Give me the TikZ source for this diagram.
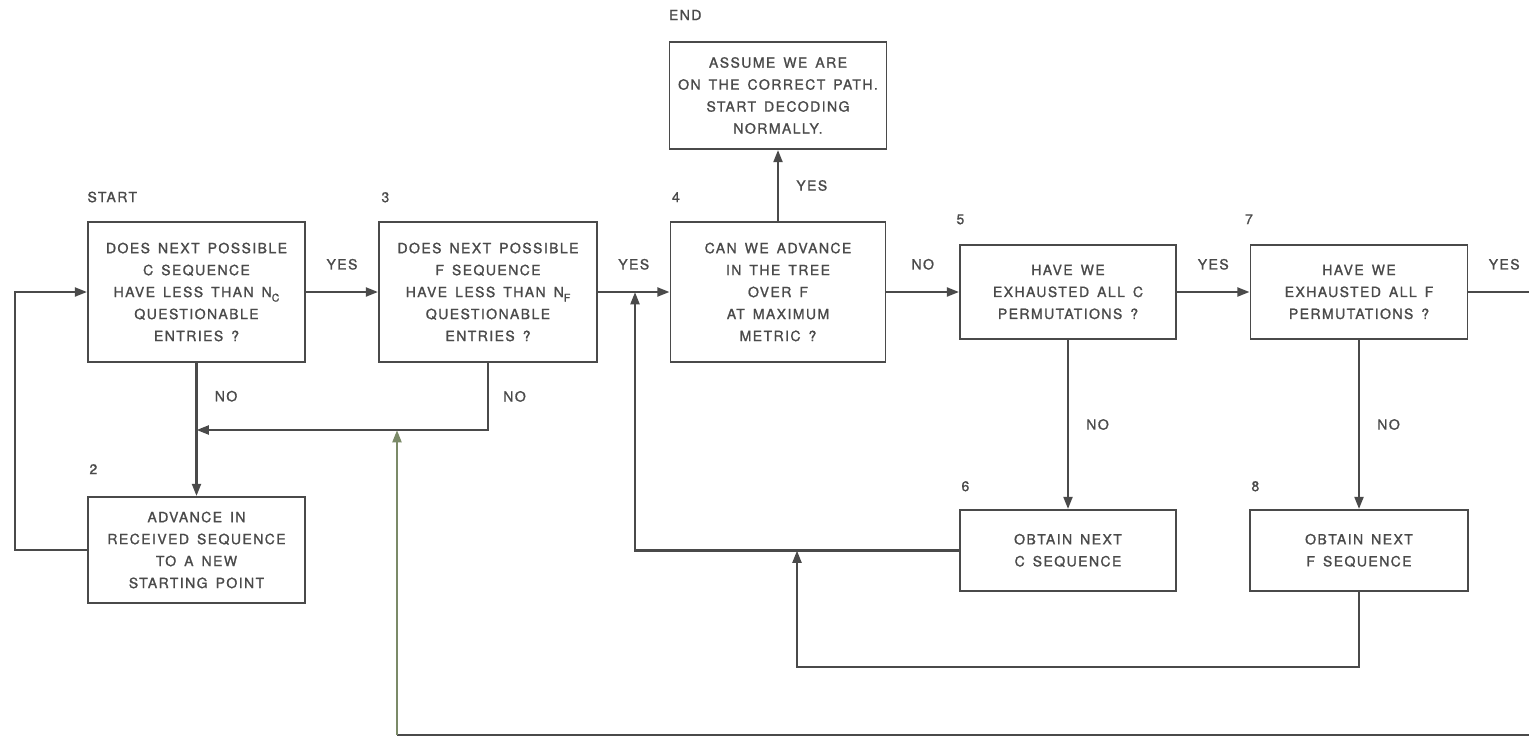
\documentclass[tikz,border=0pt]{standalone}
\usepackage{fontspec}
\newfontfamily\lettering[LetterSpace=10, WordSpace=1.5, FakeBold=1.2]{TeX Gyre Heros}
\usetikzlibrary{arrows.meta, positioning}
\definecolor{inkLine}{HTML}{4A4A4A}
\definecolor{inkText}{HTML}{4A4A4A}
\definecolor{inkGreen}{HTML}{7B8A68}
\newcommand{\subidx}[1]{\raisebox{-0.6ex}{\fontsize{6}{6}\selectfont #1}}

\begin{document}
\begin{tikzpicture}[
    x=0.02cm, y=-0.02cm,
    box/.style={
      rectangle, draw=inkLine, line width=1pt, fill=white,
      text=inkText, align=center, inner sep=2pt,
      font=\lettering\fontsize{8}{12.5}\selectfont
    },
    tag/.style={anchor=base west, inner sep=0pt, text=inkText,
      font=\lettering\fontsize{8}{10}\selectfont},
    lbl/.style={inner sep=0pt, text=inkText,
      font=\lettering\fontsize{8}{10}\selectfont},
    link/.style={line width=1.5pt, inkLine},
    flow/.style={-{Triangle[length=7pt,width=5pt]}, line width=1.5pt, inkLine},
  ]
  \useasboundingbox (0,0) rectangle (1529,737);

  %% -- Top row --
  \node[box, minimum width=4.34cm, minimum height=2.8cm] (start) at (196.5,292)
    {DOES NEXT POSSIBLE\\C SEQUENCE\\HAVE LESS THAN N\subidx{C}\\QUESTIONABLE\\ENTRIES ?};
  \node[box, minimum width=4.36cm, minimum height=2.8cm] (fchk) at (488,292)
    {DOES NEXT POSSIBLE\\F SEQUENCE\\HAVE LESS THAN N\subidx{F}\\QUESTIONABLE\\ENTRIES ?};
  \node[box, minimum width=4.3cm, minimum height=2.8cm] (adv) at (778,292)
    {CAN WE ADVANCE\\IN THE TREE\\OVER F\\AT MAXIMUM\\METRIC ?};
  \node[box, minimum width=4.32cm, minimum height=1.88cm] (exc) at (1068,292)
    {HAVE WE\\EXHAUSTED ALL C\\PERMUTATIONS ?};
  \node[box, minimum width=4.34cm, minimum height=1.88cm] (exf) at (1359,292)
    {HAVE WE\\EXHAUSTED ALL F\\PERMUTATIONS ?};

  %% -- End box --
  \node[box, minimum width=4.34cm, minimum height=2.14cm] (fin) at (778,95.5)
    {ASSUME WE ARE\\ON THE CORRECT PATH.\\START DECODING\\NORMALLY.};

  %% -- Bottom row --
  \node[box, minimum width=4.34cm, minimum height=2.12cm] (newpt) at (196.5,550)
    {ADVANCE IN\\RECEIVED SEQUENCE\\TO A NEW\\STARTING POINT};
  \node[box, minimum width=4.32cm, minimum height=1.62cm] (nxc) at (1068,550.5)
    {OBTAIN NEXT\\C SEQUENCE};
  \node[box, minimum width=4.36cm, minimum height=1.62cm] (nxf) at (1359,550.5)
    {OBTAIN NEXT\\F SEQUENCE};

  %% -- Step tags --
  \node[tag] (tstart) at ([yshift=0.38cm]start.north west) {START};
  \node[tag] (tfchk)  at ([xshift=0.06cm, yshift=0.38cm]fchk.north west) {3};
  \node[tag] (tadv)   at ([xshift=0.04cm, yshift=0.38cm]adv.north west) {4};
  \node[tag] (tfin)   at ([yshift=0.42cm]fin.north west) {END};
  \node[tag] (texc)   at ([xshift=-0.06cm, yshift=0.4cm]exc.north west) {5};
  \node[tag] (texf)   at ([xshift=-0.1cm, yshift=0.4cm]exf.north west) {7};
  \node[tag] (tnewpt) at ([xshift=0.04cm, yshift=0.44cm]newpt.north west) {2};
  \node[tag] (tnxc)   at ([xshift=0.04cm, yshift=0.36cm]nxc.north west) {6};
  \node[tag] (tnxf)   at ([xshift=0.04cm, yshift=0.36cm]nxf.north west) {8};

  %% -- Junctions --
  \coordinate (lp) at (15,550);
  \coordinate (nojn) at (488,430);
  \coordinate (jn) at (397,430);
  \coordinate (cup) at (635,550.5);
  \coordinate (cjn) at (635,292);
  \coordinate (fdn) at (1359,667);
  \coordinate (fup) at (797,667);
  \coordinate (fjn) at (797,550.5);
  \coordinate (rt) at (1540,292);
  \coordinate (rb) at (1540,735);
  \coordinate (lb) at (397,735);

  %% -- Forward flow --
  \draw[flow] (start) -- node[lbl, above=0.42cm] {YES} (fchk);
  \draw[flow] (fchk) -- node[lbl, above=0.42cm] {YES} (adv);
  \draw[flow] (adv) -- node[lbl, above=0.42cm] {NO} (exc);
  \draw[flow] (exc) -- node[lbl, above=0.42cm] {YES} (exf);
  \draw[link] (exf) -- node[lbl, above=0.42cm] {YES} (rt);
  \draw[flow] (adv) -- node[lbl, right=0.34cm] {YES} (fin);

  %% -- NO branches --
  \draw[flow] (start) -- node[lbl, right=0.34cm, pos=0.25] {NO} (newpt);
  \draw[flow] (fchk.south) -- node[lbl, right=0.28cm] {NO} (nojn) -- (start.south |- nojn);
  \draw[flow] (exc) -- node[lbl, right=0.34cm] {NO} (nxc);
  \draw[flow] (exf) -- node[lbl, right=0.34cm] {NO} (nxf);

  %% -- Return paths --
  \draw[flow] (newpt.west) -- (lp) |- (start.west);
  \draw[flow] (nxc.west) -- (cup) -- (cjn);
  \draw[flow] (nxf.south) -- (fdn) -- (fup) -- (fjn);
  \draw[link] (rt) -- (rb) -- (lb);
  \draw[flow, inkGreen] (lb) -- (jn);

\end{tikzpicture}
\end{document}
